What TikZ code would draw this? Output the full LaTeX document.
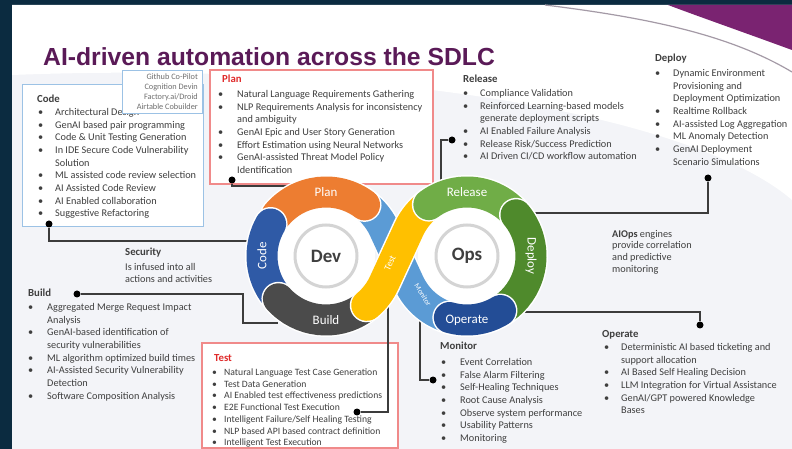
\documentclass[tikz,border=0pt]{standalone}
\usepackage{fontspec}
\setmainfont{Carlito}
\newfontfamily\titlefont{Liberation Sans}
\usetikzlibrary{calc}

\definecolor{navy}{HTML}{0B2B40}
\definecolor{slidebg}{HTML}{F3F4F8}
\definecolor{plum}{HTML}{7A2371}
\definecolor{titleplum}{HTML}{5A1A57}
\definecolor{textgray}{HTML}{3F3F3F}
\definecolor{headred}{HTML}{E02A2A}
\definecolor{rededge}{HTML}{F08A8A}
\definecolor{blueedge}{HTML}{9CC2E5}
\definecolor{toolgray}{HTML}{6E6E6E}
\definecolor{linegray}{HTML}{A49AA6}
\definecolor{connect}{HTML}{3C3C3C}
\definecolor{planorange}{HTML}{ED7D31}
\definecolor{codeblue}{HTML}{2F5AA6}
\definecolor{buildgray}{HTML}{4B4B4B}
\definecolor{testyellow}{HTML}{FFC000}
\definecolor{releasegreen}{HTML}{70AD47}
\definecolor{deploygreen}{HTML}{4F8A2C}
\definecolor{operateblue}{HTML}{234D96}
\definecolor{monitorblue}{HTML}{5B9BD5}
\definecolor{rimgray}{HTML}{D4D4D4}

% list item with a bullet column of width #1, and a continuation line
\newcommand{\itm}[2][17bp]{\makebox[#1][l]{\strut\textbullet}#2}
\newcommand{\cnt}[2][17bp]{\hspace*{#1}\strut#2}
% one ring segment: a white rim under the coloured band
\newcommand{\seg}[2]{%
  \draw[line width=34bp, line cap=round, white] #2;
  \draw[line width=31bp, line cap=round, #1] #2;}

\begin{document}
\begin{tikzpicture}[x=1bp, y=-1bp,
  txt/.style={anchor=north west, inner sep=0pt, align=left,
    font=\fontsize{10.3}{12.7}\selectfont, text=textgray},
  hd/.style={anchor=base west, inner sep=0pt,
    font=\fontsize{10.8}{13}\selectfont\bfseries, text=textgray},
  redhd/.style={hd, text=headred},
  boxblue/.style={draw=blueedge, line width=1bp, fill=white},
  boxred/.style={draw=rededge, line width=1.2bp, fill=white},
  conn/.style={draw=connect, line width=1.3bp},
  dot/.style={circle, fill=black, inner sep=0pt, minimum size=7bp},
  ringlbl/.style={text=white, inner sep=0pt, font=\fontsize{13}{13}\selectfont},
  hub/.style={circle, fill=white, draw=rimgray, line width=3bp,
    minimum size=62bp, inner sep=0pt, text=textgray,
    font=\fontsize{19}{19}\selectfont\bfseries}]

\useasboundingbox (0,0) rectangle (792,449);

% slide and frame
\fill[navy] (0,0) rectangle (792,449);
\fill[slidebg] (12,5) rectangle (792,449);
\fill[white] (12,5) -- (792,5) -- (792,200) .. controls (700,120) and (400,60) .. (12,75) -- cycle;
\draw[linegray, line width=1.2bp] (545,5) .. controls (650,18) and (730,35) .. (792,72);
\fill[plum] (668,5) -- (792,5) -- (792,50) .. controls (740,31) and (700,17) .. (668,5) -- cycle;

% title
\node[anchor=base west, inner sep=0pt, text=titleplum,
  font=\titlefont\bfseries\fontsize{24.8}{28}\selectfont] (title) at (43,66)
  {AI-driven automation across the SDLC};

% Code
\draw[boxblue] (22,85) rectangle (203,227);
\node[hd] (codeT) at (37,102.5) {Code};
\node[txt] (codeL) at (38,106.6) {\itm{Architectural Design}\\
  \itm{GenAI based pair programming}\\
  \itm{Code \& Unit Testing Generation}\\
  \itm{In IDE Secure Code Vulnerability}\\
  \cnt{Solution}\\
  \itm{ML assisted code review selection}\\
  \itm{AI Assisted Code Review}\\
  \itm{AI Enabled collaboration}\\
  \itm{Suggestive Refactoring}};
\draw[boxblue] (122,71) rectangle (202,114);
\node[anchor=north east, inner sep=0pt, align=right, text=toolgray,
  font=\fontsize{8.3}{10}\selectfont] (tools) at (198,73.5)
  {Github Co-Pilot\\Cognition Devin\\Factory.ai/Droid\\Airtable Cobuilder};

% Plan
\draw[boxred] (210,70) rectangle (433,184);
\node[redhd] (planT) at (222,82.5) {Plan};
\node[txt] (planL) at (218,88.4) {\itm[19bp]{Natural Language Requirements Gathering}\\
  \itm[19bp]{NLP Requirements Analysis for inconsistency}\\
  \cnt[19bp]{and ambiguity}\\
  \itm[19bp]{GenAI Epic and User Story Generation}\\
  \itm[19bp]{Effort Estimation using Neural Networks}\\
  \itm[19bp]{GenAI-assisted Threat Model Policy}\\
  \cnt[19bp]{Identification}};

% Release
\node[hd] (relT) at (463,82.5) {Release};
\node[txt] (relL) at (463,87.4) {\itm{Compliance Validation}\\
  \itm{Reinforced Learning-based models}\\
  \cnt{generate deployment scripts}\\
  \itm{AI Enabled Failure Analysis}\\
  \itm{Release Risk/Success Prediction}\\
  \itm{AI Driven CI/CD workflow automation}};

% Deploy
\node[hd] (depT) at (655,61.5) {Deploy};
\node[txt] (depL) at (655,67.4) {\itm[18bp]{Dynamic Environment}\\
  \cnt[18bp]{Provisioning and}\\
  \cnt[18bp]{Deployment Optimization}\\
  \itm[18bp]{Realtime Rollback}\\
  \itm[18bp]{AI-assisted Log Aggregation}\\
  \itm[18bp]{ML Anomaly Detection}\\
  \itm[18bp]{GenAI Deployment}\\
  \cnt[18bp]{Scenario Simulations}};

% AIOps note
\node[txt, font=\fontsize{10.3}{11.8}\selectfont] (aiops) at (612,228.6)
  {\strut\textbf{AIOps} engines\\provide correlation\\and predictive\\monitoring};

% Security note
\node[hd] (secT) at (125,256) {Security};
\node[txt] (secL) at (125,261.1) {\strut Is infused into all\\actions and activities};

% Build
\node[hd] (buildT) at (28,296.5) {Build};
\node[txt] (buildL) at (28,301.4) {\itm[19bp]{Aggregated Merge Request Impact}\\
  \cnt[19bp]{Analysis}\\
  \itm[19bp]{GenAI-based identification of}\\
  \cnt[19bp]{security vulnerabilities}\\
  \itm[19bp]{ML algorithm optimized build times}\\
  \itm[19bp]{AI-Assisted Security Vulnerability}\\
  \cnt[19bp]{Detection}\\
  \itm[19bp]{Software Composition Analysis}};

% Test
\draw[boxred] (202,343) rectangle (398,448);
\node[redhd] (testT) at (214,361.5) {Test};
\node[txt, font=\fontsize{9.7}{11.8}\selectfont] (testL) at (212,367)
  {\itm[12bp]{Natural Language Test Case Generation}\\
  \itm[12bp]{Test Data Generation}\\
  \itm[12bp]{AI Enabled test effectiveness predictions}\\
  \itm[12bp]{E2E Functional Test Execution}\\
  \itm[12bp]{Intelligent Failure/Self Healing Testing}\\
  \itm[12bp]{NLP based API based contract definition}\\
  \itm[12bp]{Intelligent Test Execution}};

% Monitor
\node[hd] (monT) at (440,349.5) {Monitor};
\node[txt] (monL) at (441,356.4) {\itm[19bp]{Event Correlation}\\
  \itm[19bp]{False Alarm Filtering}\\
  \itm[19bp]{Self-Healing Techniques}\\
  \itm[19bp]{Root Cause Analysis}\\
  \itm[19bp]{Observe system performance}\\
  \itm[19bp]{Usability Patterns}\\
  \itm[19bp]{Monitoring}};

% Operate
\node[hd] (opT) at (602,337.5) {Operate};
\node[txt] (opL) at (604,341.4) {\itm{Deterministic AI based ticketing and}\\
  \cnt{support allocation}\\
  \itm{AI Based Self Healing Decision}\\
  \itm{LLM Integration for Virtual Assistance}\\
  \itm{GenAI/GPT powered Knowledge}\\
  \cnt{Bases}};

% connectors from each list to its ring segment
\coordinate (D) at (326,256);
\coordinate (O) at (467,256);
\node[dot] (dCode) at (49,224) {};
\node[dot] (dPlan) at (232,180) {};
\node[dot] (dRel) at (452,140) {};
\node[dot] (dDep) at (708,178) {};
\node[dot] (dOp) at (700,325) {};
\node[dot] (dMon) at (433,380) {};
\node[dot] (dTest) at (357,412) {};
\node[dot] (dBuild) at (77,294) {};
\coordinate (rCode) at (252,241);
\coordinate (rPlan) at (295,186);
\coordinate (rRel) at (441,190);
\coordinate (rDep) at (520,213);
\coordinate (rOp) at (520,312);
\coordinate (rMon) at (420,315);
\coordinate (rTest) at (388,298);
\coordinate (rBuild) at (278,323);
\draw[conn] (dCode) |- (rCode);
\draw[conn] (dPlan) |- (rPlan);
\draw[conn] (dRel) -| (rRel);
\draw[conn] (dDep) |- (rDep);
\draw[conn] (dOp) |- (rOp);
\draw[conn] (dMon) -| (rMon);
\draw[conn] (dTest) -| (rTest);
\draw[conn] (dBuild) -| ([xshift=-35bp]rBuild) -- (rBuild);

% infinity loop
\fill[white] (D) circle[radius=49];
\fill[white] (O) circle[radius=49];
\seg{monitorblue}{([shift={(-260:64)}]O) arc[start angle=-260, end angle=-204.8, radius=64]
  -- ([shift={(-24.8:64)}]D) arc[start angle=-24.8, end angle=-60, radius=64]}
\seg{planorange}{([shift={(-53:64)}]D) arc[start angle=-53, end angle=-140, radius=64]}
\seg{codeblue}{([shift={(-150:64)}]D) arc[start angle=-150, end angle=-215, radius=64]}
\seg{buildgray}{([shift={(-222:64)}]D) arc[start angle=-222, end angle=-305, radius=64]}
\seg{testyellow}{([shift={(-309.6:64)}]D) arc[start angle=-309.6, end angle=-335.2, radius=64]
  -- ([shift={(-155.2:64)}]O) arc[start angle=-155.2, end angle=-126, radius=64]}
\seg{releasegreen}{([shift={(-126.6:64)}]O) arc[start angle=-126.6, end angle=-35, radius=64]}
\seg{deploygreen}{([shift={(-40:64)}]O) arc[start angle=-40, end angle=60, radius=64]}
\seg{operateblue}{([shift={(58.5:64)}]O) arc[start angle=58.5, end angle=106, radius=64]}

\node[hub] (dev) at (D) {Dev};
\node[hub] (ops) at (O) {Ops};

\node[ringlbl] (lPlan) at (326,192) {Plan};
\node[ringlbl, rotate=90] (lCode) at (262,256) {Code};
\node[ringlbl] (lBuild) at (326,320) {Build};
\node[ringlbl, font=\fontsize{9.5}{9.5}\selectfont, rotate=65] (lTest) at (390,263) {Test};
\node[ringlbl, font=\fontsize{7.5}{7.5}\selectfont, rotate=-58] (lMon) at (423,295) {Monitor};
\node[ringlbl] (lRel) at (467,192) {Release};
\node[ringlbl, rotate=-90] (lDep) at (531,256) {Deploy};
\node[ringlbl] (lOp) at (467,320) {Operate};

\end{tikzpicture}
\end{document}
